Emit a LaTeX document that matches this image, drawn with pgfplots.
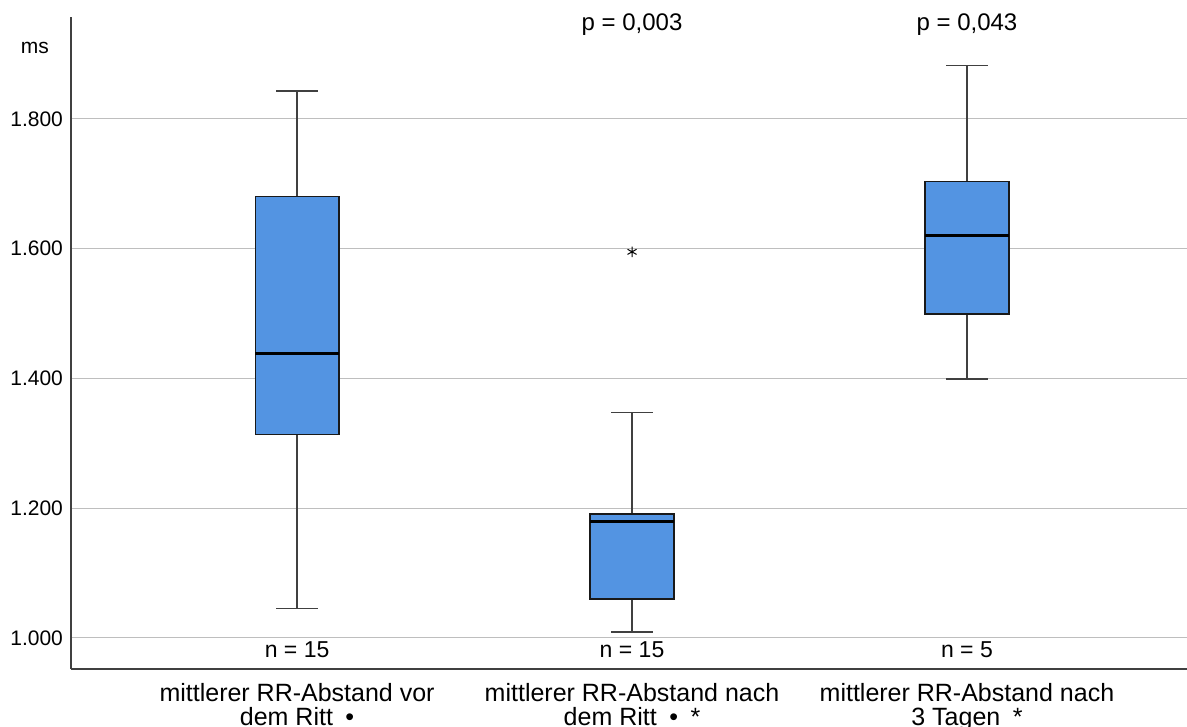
\documentclass[border=0pt]{standalone}
\usepackage{pgfplots}
\pgfplotsset{compat=1.18}
\usepackage{fontspec}
\setmainfont{Liberation Sans}
\definecolor{boxblue}{RGB}{83,148,226}
\definecolor{gridgray}{RGB}{190,190,190}
\pgfplotsset{
  whisk/.style={draw=black!75, line width=0.65pt, mark=none},
  boxst/.style={draw=black!90, line width=0.7pt, fill=boxblue, mark=none},
  medst/.style={draw=black, line width=1.5pt, mark=none},
}
\begin{document}
\begin{tikzpicture}
\begin{axis}[
  scale only axis, width=558pt, height=326pt,
  xmin=-0.675, xmax=2.657, ymin=952, ymax=1957,
  clip=false,
  axis x line*=bottom, axis y line*=left,
  axis line style={-, black!75, line width=0.6pt},
  xtick={0,1,2},
  xticklabels={{mittlerer RR-Abstand vor\\dem Ritt\enspace•},
               {mittlerer RR-Abstand nach\\dem Ritt\enspace•\enspace*},
               {mittlerer RR-Abstand nach\\3 Tagen\enspace*}},
  ytick={1000,1200,1400,1600,1800},
  yticklabels={1.000,1.200,1.400,1.600,1.800},
  tick style={draw=none},
  ymajorgrids, grid style={gridgray, line width=0.6pt},
  yticklabel style={font=\fontsize{10.5}{12}\selectfont, xshift=-0.5pt},
  xticklabel style={align=center, font=\fontsize{12.5}{12}\selectfont, yshift=-3.5pt},
]
% group 0: lw 1045, q1 1313, med 1439, q3 1680, uw 1843
\addplot[whisk] coordinates {(0,1045) (0,1313)};
\addplot[whisk] coordinates {(0,1680) (0,1843)};
\addplot[whisk] coordinates {(-0.0625,1045) (0.0625,1045)};
\addplot[whisk] coordinates {(-0.0625,1843) (0.0625,1843)};
\addplot[boxst] coordinates {(-0.125,1313) (0.125,1313) (0.125,1680) (-0.125,1680)} -- cycle;
\addplot[medst] coordinates {(-0.125,1439) (0.125,1439)};
% group 1: lw 1009, q1 1060, med 1180, q3 1191, uw 1347, outlier 1595
\addplot[whisk] coordinates {(1,1009) (1,1060)};
\addplot[whisk] coordinates {(1,1191) (1,1347)};
\addplot[whisk] coordinates {(0.9375,1009) (1.0625,1009)};
\addplot[whisk] coordinates {(0.9375,1347) (1.0625,1347)};
\addplot[boxst] coordinates {(0.875,1060) (1.125,1060) (1.125,1191) (0.875,1191)} -- cycle;
\addplot[medst] coordinates {(0.875,1180) (1.125,1180)};
\addplot[only marks, mark=asterisk, mark size=2.6pt, mark options={black, line width=0.5pt}]
  coordinates {(1,1595)};
% group 2: lw 1399, q1 1499, med 1620, q3 1703, uw 1882
\addplot[whisk] coordinates {(2,1399) (2,1499)};
\addplot[whisk] coordinates {(2,1703) (2,1882)};
\addplot[whisk] coordinates {(1.9375,1399) (2.0625,1399)};
\addplot[whisk] coordinates {(1.9375,1882) (2.0625,1882)};
\addplot[boxst] coordinates {(1.875,1499) (2.125,1499) (2.125,1703) (1.875,1703)} -- cycle;
\addplot[medst] coordinates {(1.875,1620) (2.125,1620)};
\node[font=\fontsize{12}{14}\selectfont] at (axis cs:1,1945) {p = 0,003};
\node[font=\fontsize{12}{14}\selectfont] at (axis cs:2,1945) {p = 0,043};
\node[font=\fontsize{11.5}{13}\selectfont] at (axis cs:0,981) {n = 15};
\node[font=\fontsize{11.5}{13}\selectfont] at (axis cs:1,981) {n = 15};
\node[font=\fontsize{11.5}{13}\selectfont] at (axis cs:2,981) {n = 5};
\node[font=\fontsize{10.5}{12}\selectfont, anchor=east, xshift=-7.5pt] at (rel axis cs:0,0.952) {ms};
\coordinate (SW) at (rel axis cs:0,0);
\coordinate (NE) at (rel axis cs:1,1);
\end{axis}
\pgfresetboundingbox
\path ([shift={(-35.5pt,-29pt)}]SW) rectangle ([shift={(0pt,8.5pt)}]NE);
\end{tikzpicture}
\end{document}
